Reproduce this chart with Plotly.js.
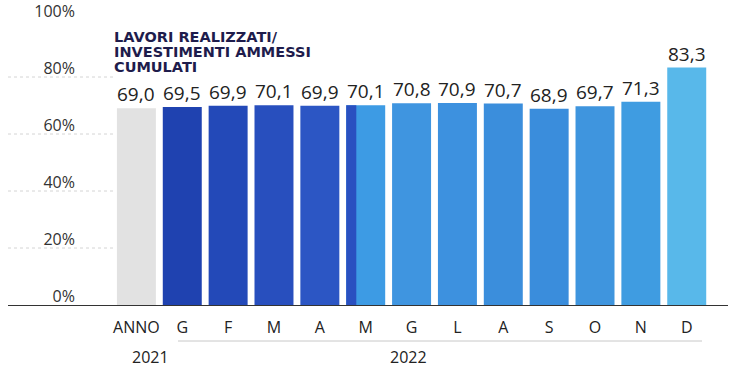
<!DOCTYPE html>
<html>
<head>
<meta charset="utf-8">
<script src="https://cdn.plot.ly/plotly-3.0.1.min.js"></script>
<style>html,body{margin:0;padding:0;background:#fff;}#chart{width:731px;height:371px;}</style>
</head>
<body>
<div id="chart"></div>
<script>
// Data
const categories = ['ANNO','G1','F','M1','A1','M2','G2','L','A2','S','O','N','D'];
const tickLabels = ['ANNO','G','F','M','A','M','G','L','A','S','O','N','D'];
const values = [69.0, 69.5, 69.9, 70.1, 69.9, 70.1, 70.8, 70.9, 70.7, 68.9, 69.7, 71.3, 83.3];
const barColors = ['#e2e2e2','#1f42b0','#2349b8','#284fbe','#2c56c4','#3d9be4','#3f95e0','#3d91df','#3b8edc','#3a8ddc','#3f95de','#3f9ce1','#58b8ea'];
const splitCategory = ['M2'];
const splitValue = [70.1];
const yTicks = [0, 20, 40, 60, 80, 100];
const yTickLabels = ['0%','20%','40%','60%','80%','100%'];
const titleLines = ['LAVORI REALIZZATI/', 'INVESTIMENTI AMMESSI', 'CUMULATI'];
const yearLabels = ['2021', '2022'];

// plot geometry: y=0 at 305px, 2.85px per unit
const T = 9, B = 66, YMAX = (305 - T) / 2.85;

const main = {
  type: 'bar',
  x: categories,
  y: values,
  width: 0.85,
  marker: {color: barColors, line: {width: 0}},
  hoverinfo: 'skip'
};
const split = {
  type: 'bar',
  x: splitCategory,
  y: splitValue,
  width: 0.22,
  offset: -0.425,
  marker: {color: '#2a50c0', line: {width: 0}},
  hoverinfo: 'skip'
};

const valueLabels = categories.map((c, i) => ({
  x: c, y: values[i], xref: 'x', yref: 'y', yanchor: 'bottom', yshift: -1,
  text: values[i].toFixed(1).replace('.', ','), showarrow: false,
  font: {family: 'Open Sans, sans-serif', size: 19, color: '#222'}
}));

const H = 305 - T;
const titleAnns = titleLines.map((t, i) => ({
  text: '<b>' + t + '</b>', xref: 'paper', yref: 'paper',
  x: (112-8)/720, y: (305-(37 + i*15))/H, xanchor: 'left', yanchor: 'middle',
  showarrow: false,
  font: {family: 'DejaVu Sans, sans-serif', size: 14.5, color: '#1e1c4c'}
}));

const gridShapes = [20, 40, 60, 80].map(v => ({
  type: 'line', xref: 'paper', yref: 'y', x0: 0, x1: 0.15, y0: v, y1: v,
  line: {color: '#d4d4d4', width: 1, dash: 'dot'}, layer: 'below'
}));

const layout = {
  width: 731, height: 371,
  margin: {l: 8, r: 3, t: T, b: B},
  paper_bgcolor: '#fff', plot_bgcolor: 'rgba(0,0,0,0)',
  barmode: 'overlay',
  showlegend: false,
  separators: ',.',
  xaxis: {
    type: 'category',
    range: [-2.8, 12.9],
    tickvals: categories, ticktext: tickLabels,
    showgrid: false, zeroline: false,
    showline: true, linecolor: '#333', linewidth: 1.2,
    ticks: '', ticklabelstandoff: 8,
    tickfont: {family: 'Open Sans, sans-serif', size: 16, color: '#222'},
    fixedrange: true
  },
  yaxis: {
    range: [0, YMAX],
    anchor: 'free', position: 0.093,
    tickvals: yTicks, ticktext: yTickLabels,
    showgrid: false, zeroline: false, showline: false,
    ticks: '', ticklabelshift: -9, ticklabeloverflow: 'allow',
    tickfont: {family: 'Open Sans, sans-serif', size: 16, color: '#333'},
    fixedrange: true
  },
  shapes: gridShapes.concat([
    {type: 'line', xref: 'paper', yref: 'paper', x0: (178-8)/720, x1: (702-8)/720, y0: -(341-305)/H, y1: -(341-305)/H,
     line: {color: '#c8c8c8', width: 1}}
  ]),
  annotations: valueLabels.concat(titleAnns).concat([
    {text: yearLabels[0], xref: 'paper', yref: 'paper', x: (130-8)/720, y: -(357-305)/H, yanchor: 'middle', showarrow: false,
     font: {family: 'Open Sans, sans-serif', size: 16, color: '#222'}},
    {text: yearLabels[1], xref: 'paper', yref: 'paper', x: (408-8)/720, y: -(357-305)/H, yanchor: 'middle', showarrow: false,
     font: {family: 'Open Sans, sans-serif', size: 16, color: '#222'}}
  ])
};

Plotly.newPlot('chart', [main, split], layout, {displayModeBar: false, staticPlot: true});
</script>
</body>
</html>
